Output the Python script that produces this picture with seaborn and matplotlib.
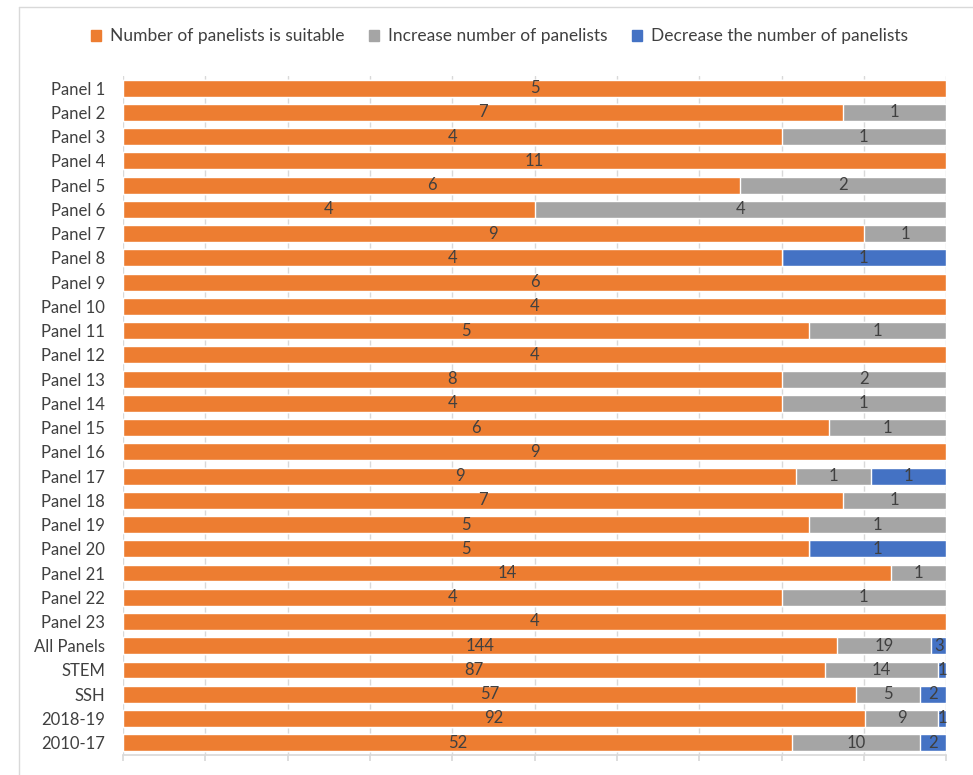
import numpy as np
import pandas as pd
import matplotlib
matplotlib.use("Agg")
import matplotlib.pyplot as plt
import seaborn as sns

# data
categories = [f"Panel {i}" for i in range(1, 24)] + ["All Panels", "STEM", "SSH", "2018-19", "2010-17"]
suitable = [5, 7, 4, 11, 6, 4, 9, 4, 6, 4, 5, 4, 8, 4, 6, 9, 9, 7, 5, 5, 14, 4, 4,
            144, 87, 57, 92, 52]
increase = [0, 1, 1, 0, 2, 4, 1, 0, 0, 0, 1, 0, 2, 1, 1, 0, 1, 1, 1, 0, 1, 1, 0,
            19, 14, 5, 9, 10]
decrease = [0, 0, 0, 0, 0, 0, 0, 1, 0, 0, 0, 0, 0, 0, 0, 0, 1, 0, 0, 1, 0, 0, 0,
            3, 1, 2, 1, 2]
series_names = ["Number of panelists is suitable", "Increase number of panelists",
                "Decrease the number of panelists"]
colors = ["#ED7D31", "#A5A5A5", "#4472C4"]

sns.set_theme(style="white")
plt.rcParams["font.family"] = ["Lato", "DejaVu Sans"]

df = pd.DataFrame({"cat": categories, "s": suitable, "i": increase, "d": decrease})
tot = df[["s", "i", "d"]].sum(axis=1)
df["p_s"] = df["s"] / tot
df["p_i"] = df["i"] / tot
df["p_d"] = df["d"] / tot
df["c1"] = df["p_s"]
df["c2"] = df["p_s"] + df["p_i"]
df["c3"] = df["c2"] + df["p_d"]

fig = plt.figure(figsize=(9.73, 7.75), dpi=100)
ax = fig.add_axes([0.1264, 0.026, 0.846, 0.876])

# draw cumulative bars back to front
for col, color in zip(["c3", "c2", "c1"], colors[::-1]):
    sns.barplot(data=df, x=col, y="cat", color=color, width=0.7, saturation=1,
                ax=ax, order=categories, zorder=2)

ax.set_xlim(0, 1)
ax.set_xticks(np.arange(0, 1.01, 0.1))
ax.set_xticklabels([])
ax.grid(axis="x", color="#D9D9D9", linewidth=1, zorder=0)
ax.set_axisbelow(True)
ax.tick_params(axis="x", which="both", length=4, color="#D9D9D9", bottom=True)
ax.tick_params(axis="y", length=0, labelsize=12, labelcolor="#404040", pad=13)
ax.set_xlabel("")
ax.set_ylabel("")
for sp in ["top", "right", "left"]:
    ax.spines[sp].set_visible(False)
ax.spines["bottom"].set_color("#D9D9D9")

# segment labels
for yi, row in df.iterrows():
    starts = [0, row["c1"], row["c2"]]
    widths = [row["p_s"], row["p_i"], row["p_d"]]
    vals = [row["s"], row["i"], row["d"]]
    for st, w, v in zip(starts, widths, vals):
        if v > 0:
            ax.text(st + w / 2, yi, str(v), ha="center", va="center",
                    fontsize=12, color="#404040", zorder=5)

# legend
handles = [plt.Rectangle((0, 0), 1, 1, color=c) for c in colors]
fig.legend(handles, series_names, loc="center", bbox_to_anchor=(0.513, 0.953),
           ncol=3, frameon=False, fontsize=12.5, handlelength=0.6, handleheight=0.6,
           columnspacing=1.4, handletextpad=0.5, labelcolor="#404040")

# outer chart border (top and left visible)
fig.add_artist(plt.Line2D([0.0195, 0.0195], [0.0, 0.991], color="#D9D9D9", lw=1,
                          transform=fig.transFigure))
fig.add_artist(plt.Line2D([0.0195, 1.0], [0.991, 0.991], color="#D9D9D9", lw=1,
                          transform=fig.transFigure))

fig.savefig("out.png", dpi=100, facecolor="white")
